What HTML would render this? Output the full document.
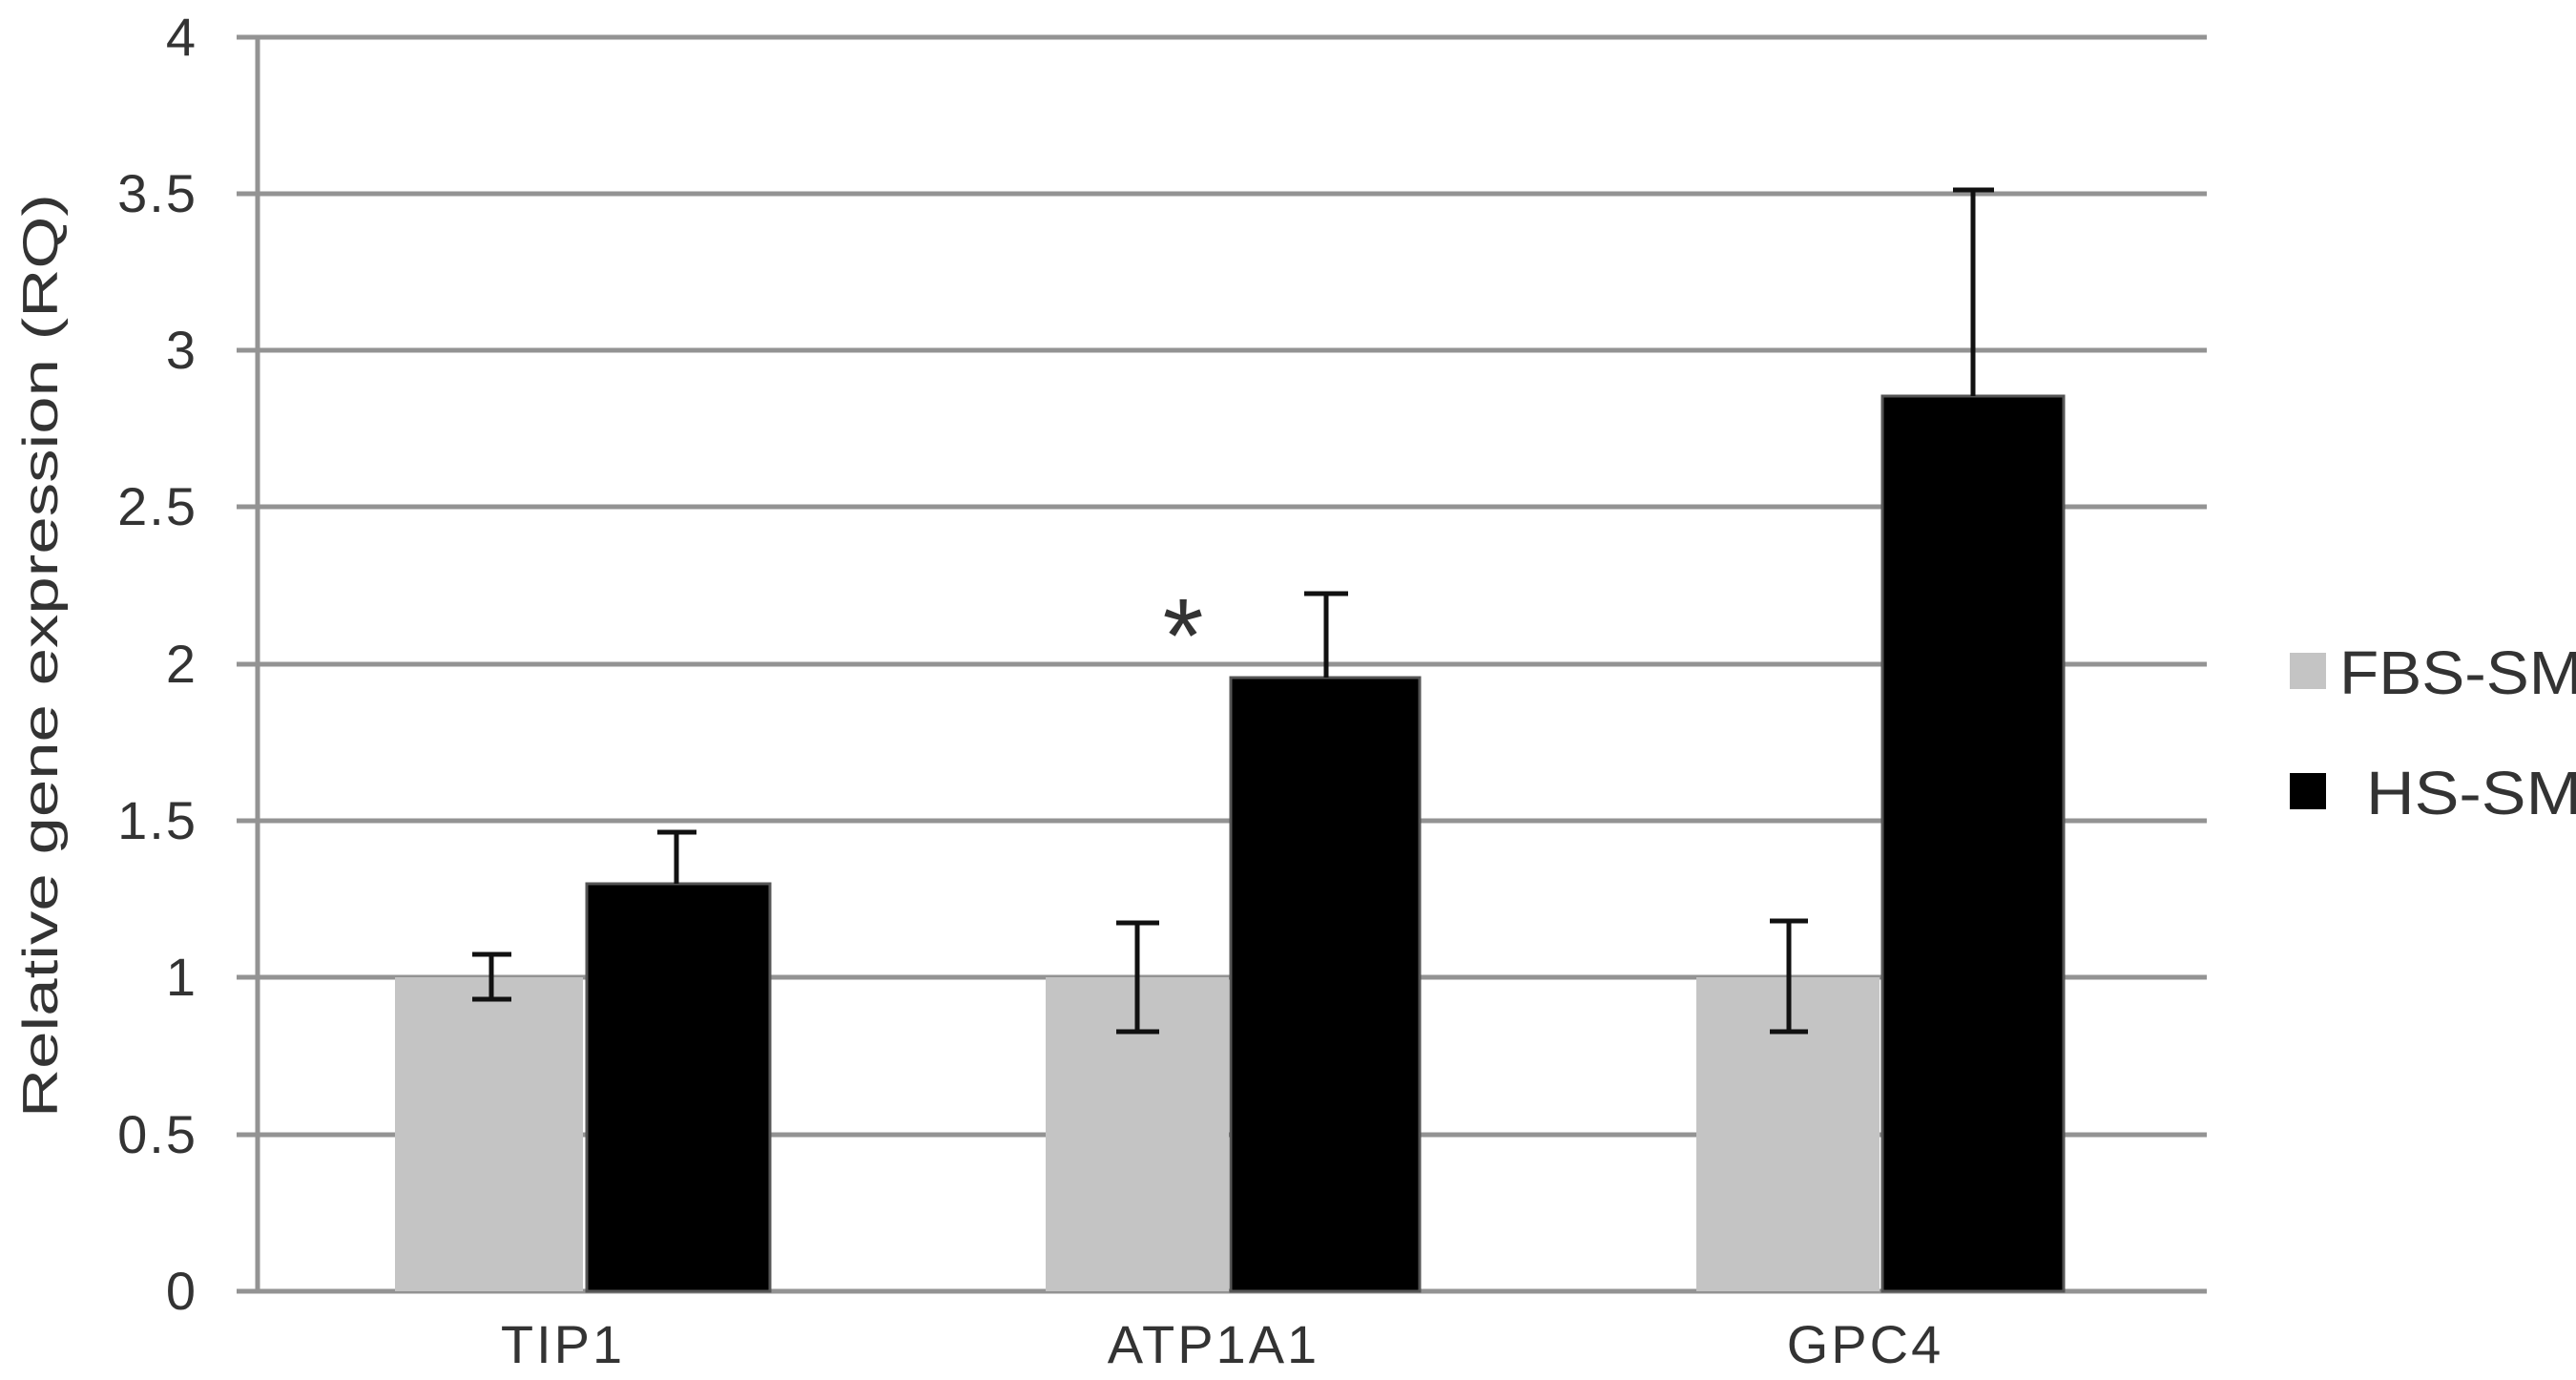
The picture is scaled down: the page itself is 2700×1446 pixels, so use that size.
<!DOCTYPE html>
<html><head><meta charset="utf-8"><style>
html,body{margin:0;padding:0;background:#fff;}
svg{display:block;}
text{font-family:"Liberation Sans","DejaVu Sans",sans-serif;fill:#333;}
</style></head><body>
<svg width="2700" height="1446" viewBox="0 0 2700 1446" xmlns="http://www.w3.org/2000/svg">
<rect width="2700" height="1446" fill="#fff"/>
<g stroke="#939393" stroke-width="5">
<line x1="248" y1="39" x2="2313" y2="39"/>
<line x1="248" y1="203" x2="2313" y2="203"/>
<line x1="248" y1="367" x2="2313" y2="367"/>
<line x1="248" y1="531" x2="2313" y2="531"/>
<line x1="248" y1="696" x2="2313" y2="696"/>
<line x1="248" y1="860" x2="2313" y2="860"/>
<line x1="248" y1="1024" x2="2313" y2="1024"/>
<line x1="248" y1="1189" x2="2313" y2="1189"/>
<line x1="248" y1="1353" x2="2313" y2="1353"/>
<line x1="270" y1="37" x2="270" y2="1353"/>
</g>
<g font-size="56" text-anchor="end" letter-spacing="2">
<text x="207" y="58">4</text>
<text x="207" y="222">3.5</text>
<text x="207" y="386">3</text>
<text x="207" y="550">2.5</text>
<text x="207" y="715">2</text>
<text x="207" y="879">1.5</text>
<text x="207" y="1043">1</text>
<text x="207" y="1208">0.5</text>
<text x="207" y="1372">0</text>
</g>
<text transform="translate(60,687) rotate(-90)" font-size="52" text-anchor="middle" textLength="968" lengthAdjust="spacingAndGlyphs">Relative gene expression (RQ)</text>
<g fill="#c4c4c4">
<rect x="414" y="1024" width="197" height="329"/>
<rect x="1096" y="1024" width="192" height="329"/>
<rect x="1778" y="1024" width="192" height="329"/>
</g>
<g fill="#000" stroke="#555" stroke-width="3">
<rect x="615" y="926" width="192" height="427"/>
<rect x="1290" y="710" width="198" height="643"/>
<rect x="1973" y="415" width="190" height="938"/>
</g>
<g stroke="#111" stroke-width="5" fill="none">
<path d="M515 1000V1047M495 1000H536M495 1047H536"/>
<path d="M709 926V872M689 872H730"/>
<path d="M1192 967V1081M1170 967H1215M1170 1081H1215"/>
<path d="M1390 710V622M1367 622H1413"/>
<path d="M1875 965V1081M1855 965H1895M1855 1081H1895"/>
<path d="M2068 415V199M2047 199H2090"/>
</g>
<text x="1240" y="704" font-size="110" text-anchor="middle" fill="#222">*</text>
<g font-size="56" text-anchor="middle" letter-spacing="3">
<text x="590" y="1428">TIP1</text>
<text x="1272" y="1428">ATP1A1</text>
<text x="1955" y="1428">GPC4</text>
</g>
<rect x="2400" y="684" width="38" height="38" fill="#c4c4c4"/>
<rect x="2400" y="810" width="38" height="38" fill="#000"/>
<text x="2452" y="727" font-size="64" textLength="255" lengthAdjust="spacingAndGlyphs">FBS-SM</text>
<text x="2480" y="853" font-size="64" textLength="226" lengthAdjust="spacingAndGlyphs">HS-SM</text>
</svg>
</body></html>
